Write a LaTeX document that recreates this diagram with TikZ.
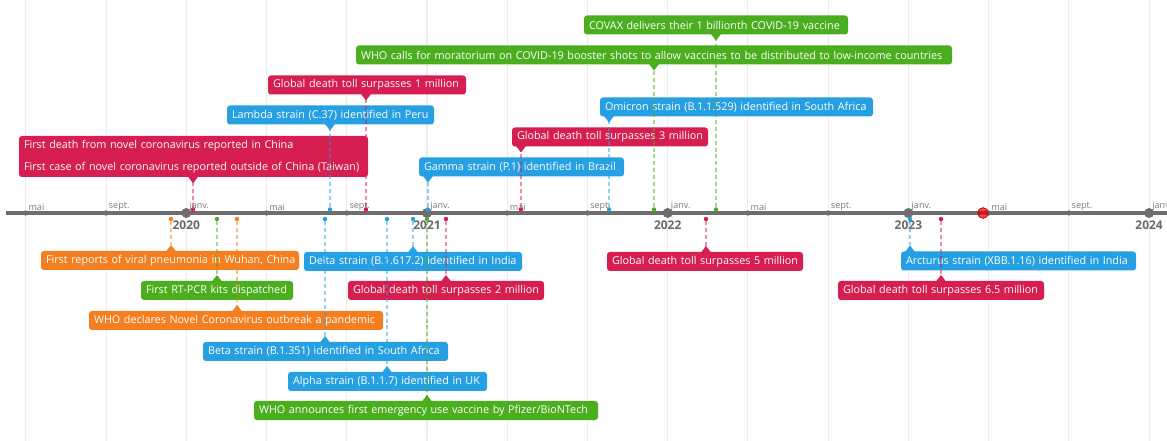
\documentclass[tikz,border=0pt]{standalone}
\usepackage{fontspec}
\setmainfont{Open Sans}
\definecolor{cOra}{HTML}{F57F20}
\definecolor{cGre}{HTML}{4BAE1E}
\definecolor{cBlu}{HTML}{26A0E2}
\definecolor{cRed}{HTML}{D61E50}
\definecolor{cAxis}{HTML}{6E6E6E}
\definecolor{cGrid}{HTML}{EDEDED}
\definecolor{cMon}{HTML}{7A7A7A}
\definecolor{cYear}{HTML}{686868}
\newcommand\evup[7]{%
  \node[evbox, fill=#2, text width={(#4-#3-10)*0.75pt}] (b#1) at ({(#3+#4)/2},#5) {\mbox{#7}};
  \fill[#2] (#6-5,#5+9) -- (#6,#5+15.5) -- (#6+5,#5+9) -- cycle;
  \coordinate (t#1) at (#6,#5+15.5);
  \node[evdot, fill=#2] (d#1) at (#6,209.5) {};
}
\newcommand\evdown[7]{%
  \node[evbox, fill=#2, text width={(#4-#3-10)*0.75pt}] (b#1) at ({(#3+#4)/2},#5) {\mbox{#7}};
  \fill[#2] (#6-5,#5-9) -- (#6,#5-15.5) -- (#6+5,#5-9) -- cycle;
  \coordinate (t#1) at (#6,#5-15.5);
  \node[evdot, fill=#2] (d#1) at (#6,219) {};
}
\begin{document}
\begin{tikzpicture}[x=0.75pt,y=-0.75pt,
  evbox/.style={rounded corners=2.2pt, text=white, inner xsep=3.75pt, inner ysep=0pt, minimum height=14.25pt,
    align=left, font=\fontsize{8.1}{9.5}\selectfont},
  evdot/.style={circle, inner sep=0pt, minimum size=3.3pt},
  evline/.style={dash pattern=on 3pt off 2.2pt, line width=1.1pt, opacity=0.5},
  gridline/.style={cGrid, line width=0.8pt},
  minortick/.style={circle, fill=cAxis, inner sep=0pt, minimum size=4pt},
  majortick/.style={circle, fill=cAxis, inner sep=0pt, minimum size=7.5pt},
  monlabel/.style={anchor=south west, inner sep=0pt, text=cMon, font=\fontsize{6.8}{8}\selectfont},
  yearlabel/.style={anchor=center, inner sep=0pt, text=cYear, font=\fontsize{9}{10}\selectfont\bfseries}]
\useasboundingbox (0,0) rectangle (1167,441);
\fill[white] (0,0) rectangle (1167,441);
% grid
\foreach \x in {25.8,106.1,186.3,266.5,346.8,427.0,507.2,587.5,667.7,747.9,828.2,908.4,988.6,1068.9,1149.1}
  \draw[gridline] (\x,0) -- (\x,441);
% axis
\draw[cAxis, line width=3pt] (6,213) -- (1167,213);
\foreach \x/\m [count=\i] in {25.8/mai,106.1/sept.,346.8/sept.,266.5/mai,507.2/mai,587.5/sept.,747.9/mai,828.2/sept.,988.6/mai,1068.9/sept.}{
  \node[minortick] (mt\i) at (\x,213) {};
  \node[monlabel] (ml\i) at (\x+2.5,210.5) {\m};
}
\foreach \x/\y [count=\i] in {186.3/2020,427.0/2021,667.7/2022,908.4/2023,1149.1/2024}{
  \node[majortick] (yt\i) at (\x,213) {};
  \node[monlabel] (jl\i) at (\x+3,210.5) {janv.};
  \node[yearlabel] (yl\i) at (\x,225.5) {\y};
}
% current date marker
\node[circle, fill=red!90!black, fill opacity=0.7, draw=red!80!black, line width=0.6pt, inner sep=0pt, minimum size=8pt] (now) at (983,213) {};
% above events
\node[evbox, fill=cRed, text width={339*0.75pt}, minimum height={41*0.75pt},
  font=\fontsize{8.1}{16.5}\selectfont] (bA) at (193.5,156.5)
  {\mbox{First death from novel coronavirus reported in China}\\\mbox{First case of novel coronavirus reported outside of China (Taiwan)}};
\fill[cRed] (188,176.5) -- (193,183.5) -- (198,176.5) -- cycle;
\coordinate (tA) at (193,183.5);
\node[evdot, fill=cRed] (dA) at (193,209.5) {};
\evup{B}{cBlu}{227}{434}{115}{330}{Lambda strain (C.37) identified in Peru}
\evup{C}{cRed}{268}{466}{85}{366}{Global death toll surpasses 1 million}
\evup{D}{cGre}{356}{952}{55}{654}{WHO calls for moratorium on COVID-19 booster shots to allow vaccines to be distributed to low-income countries}
\evup{E}{cGre}{584}{848}{25}{716}{COVAX delivers their 1 billionth COVID-19 vaccine}
\evup{F}{cBlu}{600}{873}{107}{609}{Omicron strain (B.1.1.529) identified in South Africa}
\evup{G}{cRed}{512}{708}{137}{521}{Global death toll surpasses 3 million}
\evup{H}{cBlu}{419}{624}{167}{428}{Gamma strain (P.1) identified in Brazil}
% below events
\evdown{I}{cOra}{41}{299}{260.5}{171}{First reports of viral pneumonia in Wuhan, China}
\evdown{J}{cGre}{141}{293}{290.5}{217}{First RT-PCR kits dispatched}
\evdown{K}{cOra}{89}{383}{320.5}{237}{WHO declares Novel Coronavirus outbreak a pandemic}
\evdown{L}{cBlu}{304}{522}{261.5}{413}{Delta strain (B.1.617.2) identified in India}
\evdown{M}{cRed}{348}{544}{290.5}{446}{Global death toll surpasses 2 million}
\evdown{N}{cBlu}{203}{448}{351.5}{325}{Beta strain (B.1.351) identified in South Africa}
\evdown{O}{cBlu}{288}{487}{381.5}{387}{Alpha strain (B.1.1.7) identified in UK}
\evdown{P}{cGre}{254}{598}{410.5}{427}{WHO announces first emergency use vaccine by Pfizer/BioNTech}
\evdown{Q}{cRed}{607}{803}{261.5}{706}{Global death toll surpasses 5 million}
\evdown{R}{cBlu}{901}{1136}{261}{910}{Arcturus strain (XBB.1.16) identified in India}
\evdown{S}{cRed}{838}{1044}{290.5}{941}{Global death toll surpasses 6.5 million}
% connectors
\foreach \n/\c in {A/cRed,B/cBlu,C/cRed,D/cGre,E/cGre,F/cBlu,G/cRed,H/cBlu,I/cOra,J/cGre,K/cOra,L/cBlu,M/cRed,N/cBlu,O/cBlu,P/cGre,Q/cRed,R/cBlu,S/cRed}
  \draw[evline, \c] (d\n) -- (t\n);
\end{tikzpicture}
\end{document}
